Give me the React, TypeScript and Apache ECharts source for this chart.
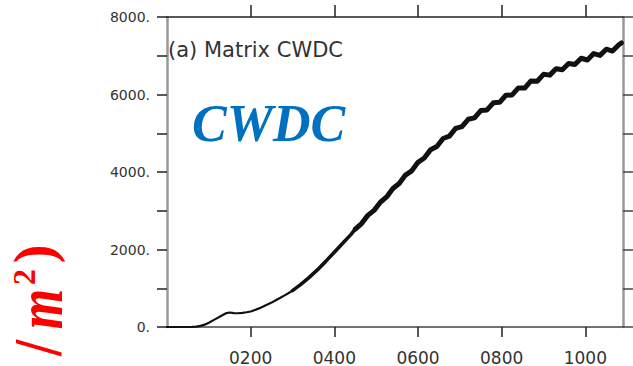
import React, { useEffect, useRef } from "react";
import * as echarts from "echarts";

const xTicks = [200, 400, 600, 800, 1000];
const yTicksLabeled = [0, 2000, 4000, 6000, 8000];

const earlyYears = [0, 20, 40, 60, 70, 80, 90, 100, 110, 120, 130, 140, 150, 160, 170, 180, 190, 200, 210, 220, 230, 240, 250, 260, 270, 280, 290, 300];
const earlyValues = [0, 0, 0, 5, 10, 30, 60, 110, 170, 230, 290, 350, 375, 360, 355, 365, 380, 400, 440, 480, 530, 580, 630, 690, 750, 810, 870, 940];

const midYears = [300, 320, 340, 360, 380, 400, 420, 440, 450];
const midValues = [940, 1100, 1280, 1480, 1700, 1930, 2160, 2390, 2525];

const lateYears = [450, 465, 480, 495, 510, 525, 540, 555, 570, 585, 600, 615, 630, 645, 660, 675, 690, 705, 720, 735, 750, 765, 780, 795, 810, 825, 840, 855, 870, 885, 900, 915, 930, 945, 960, 975, 990, 1005, 1020, 1035, 1050, 1065, 1080, 1086];
const lateValues = [2525, 2670, 2880, 3010, 3220, 3357, 3575, 3702, 3920, 4030, 4250, 4360, 4575, 4657, 4865, 4927, 5125, 5172, 5360, 5397, 5585, 5602, 5785, 5797, 5980, 5990, 6170, 6165, 6350, 6342, 6520, 6500, 6665, 6637, 6800, 6772, 6935, 6890, 7055, 7010, 7170, 7120, 7285, 7330];

const titleText = "(a) Matrix CWDC";
const bigLabel = "CWDC";

export default function App() {
  const ref = useRef<HTMLDivElement>(null);
  useEffect(() => {
    if (!ref.current) return;
    const chart = echarts.init(ref.current, null, { renderer: "svg" });
    const toPairs = (xs: number[], ys: number[]) => xs.map((x, i) => [x, ys[i]]);
    const redFont = "Liberation Serif";
    chart.setOption({
      animation: false,
      backgroundColor: "#ffffff",
      grid: { left: 167, right: 10, top: 17, bottom: 38.5 },
      xAxis: [
        {
          type: "value",
          position: "bottom",
          min: 0,
          max: 1090,
          interval: 200,
          axisLine: { show: true, onZero: false, lineStyle: { color: "#444", width: 1.5 } },
          axisTick: { show: true, inside: false, length: 10, customValues: xTicks, lineStyle: { color: "#222", width: 1.5 } },
          axisLabel: {
            show: true,
            customValues: xTicks,
            formatter: (v: number) => String(v).padStart(4, "0"),
            fontSize: 17,
            fontFamily: "DejaVu Sans",
            color: "#333",
            margin: 22,
          },
          splitLine: { show: false },
        },
        {
          type: "value",
          position: "top",
          min: 0,
          max: 1090,
          interval: 200,
          axisLine: { show: true, onZero: false, lineStyle: { color: "#222", width: 1.5 } },
          axisTick: { show: true, inside: false, length: 12, customValues: xTicks, lineStyle: { color: "#222", width: 1.5 } },
          axisLabel: { show: false },
          splitLine: { show: false },
        },
      ],
      yAxis: [
        {
          type: "value",
          position: "left",
          min: 0,
          max: 8000,
          interval: 1000,
          axisLine: { show: true, onZero: false, lineStyle: { color: "#999", width: 2.5 } },
          axisTick: { show: true, inside: false, length: 10, lineStyle: { color: "#222", width: 1.5 } },
          axisLabel: {
            show: true,
            formatter: (v: number) => (yTicksLabeled.includes(v) ? v + "." : ""),
            fontSize: 14,
            fontFamily: "DejaVu Sans",
            color: "#333",
            margin: 17,
          },
          splitLine: { show: false },
        },
        {
          type: "value",
          position: "right",
          min: 0,
          max: 8000,
          interval: 1000,
          axisLine: { show: true, onZero: false, lineStyle: { color: "#999", width: 2.5 } },
          axisTick: { show: true, inside: false, length: 10, lineStyle: { color: "#444", width: 1.5 } },
          axisLabel: { show: false },
          splitLine: { show: false },
        },
      ],
      series: [
        {
          type: "line",
          data: toPairs(earlyYears, earlyValues),
          xAxisIndex: 0,
          yAxisIndex: 0,
          showSymbol: false,
          lineStyle: { color: "#111", width: 2.2, cap: "round", join: "round" },
          z: 3,
        },
        {
          type: "line",
          data: toPairs(midYears, midValues),
          xAxisIndex: 0,
          yAxisIndex: 0,
          showSymbol: false,
          lineStyle: { color: "#111", width: 3.6, cap: "round", join: "round" },
          z: 3,
        },
        {
          type: "line",
          data: toPairs(lateYears, lateValues),
          xAxisIndex: 0,
          yAxisIndex: 0,
          showSymbol: false,
          lineStyle: { color: "#111", width: 5, cap: "round", join: "round" },
          z: 3,
        },
        { type: "line", data: [], xAxisIndex: 1, yAxisIndex: 1 },
      ],
      graphic: [
        {
          type: "text",
          left: 168,
          top: 39,
          style: { text: titleText, fontSize: 21, fontFamily: "DejaVu Sans", fill: "#333" },
        },
        {
          type: "text",
          x: 192,
          y: 123,
          style: {
            text: bigLabel,
            fontSize: 52,
            fontFamily: "Liberation Serif",
            fontWeight: "bold",
            fontStyle: "italic",
            fill: "#0070C0",
            verticalAlign: "middle",
            align: "left",
          },
        },
        {
          type: "text",
          x: 34,
          y: 254,
          rotation: Math.PI / 2,
          style: { text: ")", fontSize: 56, lineHeight: 56, fontFamily: redFont, fontWeight: "bold", fill: "#FF0000", align: "center", verticalAlign: "middle" },
        },
        {
          type: "text",
          x: 24,
          y: 277,
          rotation: Math.PI / 2,
          style: { text: "2", fontSize: 32, lineHeight: 32, fontFamily: redFont, fontWeight: "bold", fill: "#FF0000", align: "center", verticalAlign: "middle" },
        },
        {
          type: "text",
          x: 40,
          y: 309,
          rotation: Math.PI / 2,
          scaleY: 1.25,
          style: { text: "m", fontSize: 52, lineHeight: 52, fontFamily: redFont, fontWeight: "bold", fontStyle: "italic", fill: "#FF0000", align: "center", verticalAlign: "middle" },
        },
        {
          type: "text",
          x: 38,
          y: 348,
          rotation: Math.PI / 2,
          scaleY: 1.15,
          style: { text: "/", fontSize: 58, lineHeight: 58, fontFamily: redFont, fontWeight: "bold", fill: "#FF0000", align: "center", verticalAlign: "middle" },
        },
      ],
    });
    return () => chart.dispose();
  }, []);
  return <div ref={ref} style={{ width: 633, height: 366, position: "absolute", left: 0, top: 0 }} />;
}
